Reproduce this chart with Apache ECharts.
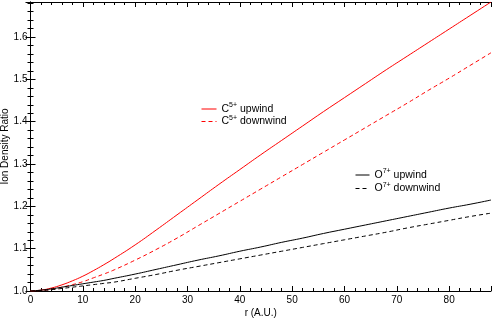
<!DOCTYPE html>
<html><head><meta charset="utf-8">
<script src="https://cdn.jsdelivr.net/npm/echarts@6/dist/echarts.min.js"></script>
<style>html,body{margin:0;padding:0;background:#fff}#c{width:493px;height:318px}</style>
</head><body><div id="c"></div>
<script>
const rValues = [0,2,4,6,8,10,12,14,16,20,24,28,32,36,40,44,48,52,56,60,64,68,72,76,80,84,88];
const c5Upwind = [1.000,1.002,1.007,1.0145,1.024,1.035,1.048,1.062,1.077,1.109,1.144,1.180,1.216,1.252,1.287,1.322,1.356,1.390,1.424,1.457,1.490,1.523,1.555,1.587,1.619,1.651,1.683];
const c5Downwind = [1.000,1.001,1.004,1.009,1.015,1.022,1.031,1.040,1.050,1.073,1.098,1.125,1.154,1.183,1.212,1.241,1.270,1.299,1.328,1.357,1.386,1.415,1.444,1.474,1.503,1.533,1.563];
const o7Upwind = [1.000,1.002,1.005,1.009,1.013,1.017,1.021,1.025,1.030,1.040,1.051,1.062,1.073,1.083,1.094,1.104,1.115,1.125,1.136,1.146,1.156,1.166,1.176,1.186,1.196,1.205,1.215];
const o7Downwind = [1.000,1.001,1.003,1.006,1.009,1.012,1.015,1.018,1.021,1.030,1.039,1.049,1.058,1.067,1.076,1.085,1.094,1.103,1.112,1.121,1.130,1.139,1.149,1.158,1.167,1.176,1.184];
const seriesNames = ['C5 upwind','C5 downwind','O7 upwind','O7 downwind'];
const seriesColors = ['#ff0000','#ff0000','#000000','#000000'];
const seriesDash = ['solid',[4,3],'solid',[4,3]];
const xAxisTitle = 'r (A.U.)';
const yAxisTitle = 'Ion Density Ratio';

const pts = arr => rValues.map((x,i)=>[x,arr[i]]);
const font = 'Liberation Sans, Arial, Helvetica, sans-serif';
const rich = {
  b:{fontSize:10.5,fontFamily:font,color:'#000'},
  s:{fontSize:7,fontFamily:font,color:'#000',padding:[0,0,7,0]}
};
const legendFmt = n => {
  const m = n.match(/^([CO])(\d) (.*)$/);
  return '{b|'+m[1]+'}{s|'+m[2]+'+}{b| '+m[3]+'}';
};
const legItem = i => ({name:seriesNames[i],itemStyle:{opacity:0},
  lineStyle:{color:seriesColors[i],width:1,type:seriesDash[i],opacity:1}});
const axisLine = {show:true,lineStyle:{color:'#000',width:1}};
const xBase = {type:'value',min:0,max:88,interval:10,axisLine,splitLine:{show:false},
  axisTick:{show:true,inside:true,length:5,lineStyle:{color:'#000'}},
  minorTick:{show:true,splitNumber:5,length:3,lineStyle:{color:'#000'}}};
const yBase = {type:'value',min:1.0,max:1.683,interval:0.1,axisLine,splitLine:{show:false},
  axisTick:{show:true,inside:true,length:5,lineStyle:{color:'#000'}},
  minorTick:{show:true,splitNumber:5,length:3,lineStyle:{color:'#000'}}};
const chart = echarts.init(document.getElementById('c'));
chart.setOption({
  animation:false,
  backgroundColor:'#fff',
  grid:{left:30.5,right:2,top:2,bottom:27,containLabel:false,outerBoundsMode:'none'},
  xAxis:[
    Object.assign({},xBase,{position:'bottom',name:xAxisTitle,nameLocation:'middle',nameGap:17,nameMoveOverlap:false,
      nameTextStyle:{fontFamily:font,fontSize:10,color:'#000'},
      axisLabel:{fontFamily:font,fontSize:10,color:'#000',margin:4,showMaxLabel:false}}),
    Object.assign({},xBase,{position:'top',axisLabel:{show:false}})
  ],
  yAxis:[
    Object.assign({},yBase,{position:'left',name:yAxisTitle,nameLocation:'middle',nameGap:20,nameMoveOverlap:false,
      nameTextStyle:{fontFamily:font,fontSize:10,color:'#000'},
      axisLabel:{fontFamily:font,fontSize:10,color:'#000',margin:3,showMaxLabel:false,formatter:v=>v.toFixed(1)}}),
    Object.assign({},yBase,{position:'right',axisLabel:{show:false}})
  ],
  legend:[
    {id:'lc',data:[legItem(0),legItem(1)],orient:'vertical',left:196,top:97,itemWidth:15,itemHeight:4,itemGap:0,
      formatter:legendFmt,textStyle:{rich}},
    {id:'lo',data:[legItem(2),legItem(3)],orient:'vertical',left:350,top:163,itemWidth:14,itemHeight:4,itemGap:1,
      formatter:legendFmt,textStyle:{rich}}
  ],
  series:[
    {name:seriesNames[0],type:'line',data:pts(c5Upwind),symbol:'none',smooth:true,lineStyle:{color:seriesColors[0],width:1,type:seriesDash[0]},itemStyle:{color:seriesColors[0]}},
    {name:seriesNames[1],type:'line',data:pts(c5Downwind),symbol:'none',smooth:true,lineStyle:{color:seriesColors[1],width:1,type:seriesDash[1]},itemStyle:{color:seriesColors[1]}},
    {name:seriesNames[2],type:'line',data:pts(o7Upwind),symbol:'none',smooth:true,lineStyle:{color:seriesColors[2],width:1,type:seriesDash[2]},itemStyle:{color:seriesColors[2]}},
    {name:seriesNames[3],type:'line',data:pts(o7Downwind),symbol:'none',smooth:true,lineStyle:{color:seriesColors[3],width:1,type:seriesDash[3]},itemStyle:{color:seriesColors[3]}}
  ]
});
</script></body></html>
